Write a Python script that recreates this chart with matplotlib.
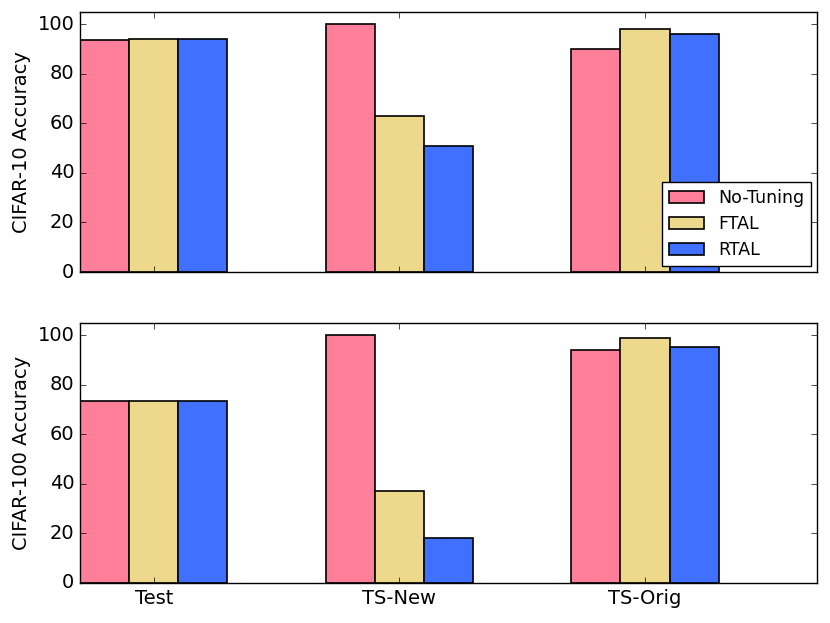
import numpy as np
import matplotlib
matplotlib.use("Agg")
import matplotlib.pyplot as plt

plt.style.use("classic")
plt.rcParams["font.family"] = ["DejaVu Sans"]
plt.rcParams["font.size"] = 14

groups = ["Test", "TS-New", "TS-Orig"]
methods = ["No-Tuning", "FTAL", "RTAL"]
colors = ["#FF7F9A", "#EDD88B", "#4070FF"]

cifar10 = {
    "No-Tuning": [93.8, 100.0, 90.0],
    "FTAL": [94.0, 63.0, 98.0],
    "RTAL": [94.0, 51.0, 96.0],
}
cifar100 = {
    "No-Tuning": [73.5, 100.0, 94.2],
    "FTAL": [73.6, 37.0, 99.1],
    "RTAL": [73.3, 18.0, 95.2],
}

ind = np.arange(len(groups))
width = 0.2

fig, (ax1, ax2) = plt.subplots(2, 1, figsize=(8.3, 6.23), dpi=100)
fig.patch.set_facecolor("white")

for ax, data, ylabel in [(ax1, cifar10, "CIFAR-10 Accuracy"),
                         (ax2, cifar100, "CIFAR-100 Accuracy")]:
    for i, m in enumerate(methods):
        ax.bar(ind + (i - 1) * width, data[m], width, color=colors[i],
               edgecolor="black", linewidth=1.2, label=m, align="center")
    ax.set_ylim(0, 105)
    ax.set_xlim(-0.3, 2.7)
    ax.set_xticks(ind)
    ax.set_ylabel(ylabel, fontsize=14)
    ax.tick_params(labelsize=14)

ax1.set_xticklabels([])
ax2.set_xticklabels(groups)
ax1.legend(loc="lower right", fontsize=12.5, borderaxespad=0.35,
           labelspacing=0.45)

fig.subplots_adjust(left=80/830, right=817/830, top=1-12/623,
                    bottom=1-583/623, hspace=0.196)
fig.savefig("out.png", dpi=100, facecolor="white")
